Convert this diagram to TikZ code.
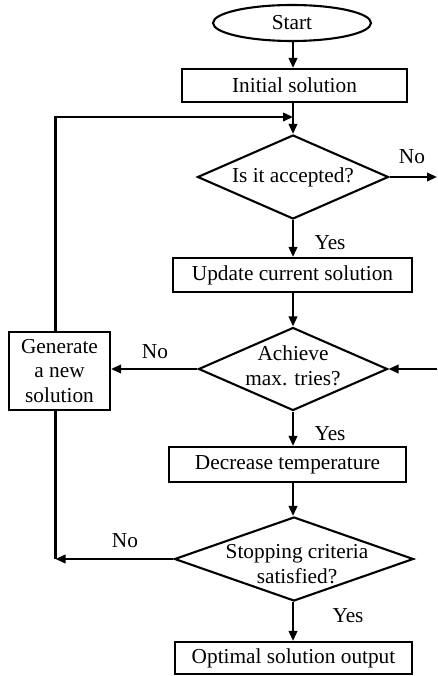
\documentclass[tikz,border=0pt]{standalone}
\usepackage{fontspec}
\setmainfont{Liberation Serif}
\usetikzlibrary{arrows.meta,shapes.geometric}

\begin{document}
\begin{tikzpicture}[
        x=1pt, y=-1pt,
        >={Triangle[length=10pt,width=8.5pt]},
        font=\fontsize{21.3}{24.7}\selectfont,
        line width=2.1pt,
        box/.style={draw, rectangle, align=center, inner sep=0pt, line width=2.1pt},
        decision/.style={draw, diamond, inner sep=0pt, line width=2.1pt},
        terminal/.style={draw, ellipse, inner sep=0pt, line width=2.1pt, minimum width=158pt, minimum height=36pt},
        lbl/.style={inner sep=0pt}
    ]
        \useasboundingbox (0,0) rectangle (437,676);
        \coordinate (axis) at (293,0);
        \node[terminal] (start) at (292,23) {Start};
        \node[box, minimum width=225pt, minimum height=33pt] (init) at (294.5,85.5) {Initial solution};
        \node[decision, minimum width=191pt, minimum height=84pt, label={center:Is it accepted?}] (accept) at (293,177) {};
        \node[box, minimum width=239pt, minimum height=34pt] (update) at (292.5,275) {Update current solution};
        \node[decision, minimum width=189pt, minimum height=83pt, label={[align=center, yshift=3pt]center:{Achieve\\max. tries?}}] (tries) at (293,369) {};
        \node[box, minimum width=101pt, minimum height=78pt] (gen) at (59.5,371) {Generate\\a new\\solution};
        \node[box, minimum width=237pt, minimum height=35pt] (decrease) at (287.5,464.5) {Decrease temperature};
        \node[decision, minimum width=239pt, minimum height=84pt, label={[align=center, xshift=3pt, yshift=-5pt]center:{Stopping criteria\\satisfied?}}] (stop) at (294,559) {};
        \node[box, minimum width=237pt, minimum height=32pt] (output) at (293.5,658) {Optimal solution output};
        \coordinate (join) at (293,117);
        \coordinate (loopTop) at (55.5,117);
        \coordinate (loopBot) at (55.5,559);
        \coordinate (reject) at (437,177);
        \coordinate (retry) at (437,369);
        \draw[->] (start.south -| axis) -- (init.north -| axis);
        \draw[->] (init.south -| axis) -- (accept.north);
        \draw[->] (gen.north -| loopTop) -- (loopTop) -- (join);
        \draw[->] (accept.east) -- (reject);
        \draw[->] (accept.south) -- (update.north -| axis);
        \draw[->] (update.south -| axis) -- (tries.north);
        \draw[->] (tries.west) -- (tries.west -| gen.east);
        \draw[->] (retry) -- (tries.east);
        \draw[->] (tries.south) -- (decrease.north -| axis);
        \draw[->] (decrease.south -| axis) -- (stop.north -| axis);
        \draw (gen.south -| loopBot) -- (loopBot);
        \draw[->] (stop.west) -- (loopBot);
        \draw[->] (stop.south -| axis) -- (output.north -| axis);
        \node[lbl] (no1) at (412,157) {No};
        \node[lbl] (yes1) at (330,243) {Yes};
        \node[lbl] (no2) at (155,352) {No};
        \node[lbl] (yes2) at (330,434) {Yes};
        \node[lbl] (no3) at (125,541) {No};
        \node[lbl] (yes3) at (348,616) {Yes};
    \end{tikzpicture}
\end{document}
